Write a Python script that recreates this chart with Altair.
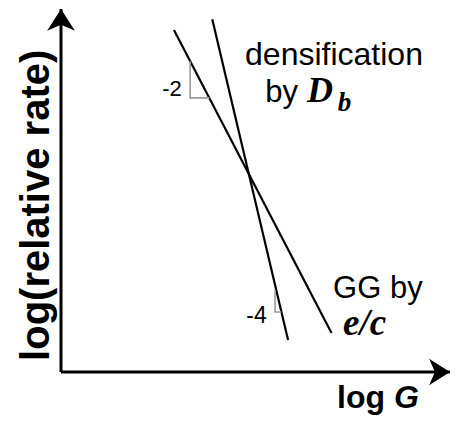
import altair as alt
import pandas as pd

# ---- data (arbitrary log units, equal scaling on both axes) ----
x_domain = [0, 9.85]
y_domain = [0, 9.19]

# GG by e/c : slope -2
gg_logG = [2.86, 6.85]
gg_logR = [8.66, 0.99]
# densification by D_b : slope -4
dens_logG = [3.83, 5.75]
dens_logR = [8.93, 0.81]

# slope triangles
tri2_logG = [3.27, 3.27, 3.76]
tri2_logR = [7.87, 6.94, 6.94]
tri4_logG = [5.42, 5.42, 5.58]
tri4_logR = [2.08, 1.52, 1.52]

# annotation anchors (data units)
lab_text = ["-2", "-4", "densification", "by", "D", "b", "GG by", "e/c", "log", "G", "log(relative rate)"]
lab_logG = [3.06, 5.21, 4.66, 5.17, 6.23, 7.01, 6.89, 7.14, 6.99, 8.43, -0.61]
lab_logR = [7.00, 1.25, 7.76, 6.84, 6.84, 6.61, 1.87, 0.94, -0.91, -0.91, 4.22]

xs = alt.Scale(domain=x_domain, nice=False, zero=False)
ys = alt.Scale(domain=y_domain, nice=False, zero=False)

SANS = "Liberation Sans"
SERIF = "Liberation Serif"

lines_df = pd.DataFrame({
    "series": ["gg"] * 2 + ["dens"] * 2,
    "g": gg_logG + dens_logG,
    "r": gg_logR + dens_logR,
    "o": [0, 1, 0, 1],
})
tri_df = pd.DataFrame({
    "series": ["t2"] * 3 + ["t4"] * 3,
    "g": tri2_logG + tri4_logG,
    "r": tri2_logR + tri4_logR,
    "o": [0, 1, 2, 0, 1, 2],
})
axes_df = pd.DataFrame({
    "g": [x_domain[0], x_domain[0]],
    "g2": [x_domain[1], x_domain[0]],
    "r": [y_domain[0], y_domain[0]],
    "r2": [y_domain[0], y_domain[1]],
})

X = lambda f="g": alt.X(f"{f}:Q", scale=xs, axis=None)
Y = lambda f="r": alt.Y(f"{f}:Q", scale=ys, axis=None)

axes = alt.Chart(axes_df).mark_rule(color="black", strokeWidth=3).encode(
    x=X(), x2="g2:Q", y=Y(), y2="r2:Q")

lines = alt.Chart(lines_df).mark_line(color="black", strokeWidth=2.2).encode(
    x=X(), y=Y(), detail="series:N", order="o:Q")

tris = alt.Chart(tri_df).mark_line(color="#9a9a9a", strokeWidth=1.6).encode(
    x=X(), y=Y(), detail="series:N", order="o:Q")

arrow_up = "M0,0L1,1.57L0,1.13L-1,1.57Z"
arrow_right = "M0,0L-1.57,-1L-1.13,0L-1.57,1Z"

up_df = pd.DataFrame({"g": [x_domain[0]], "r": [y_domain[1]]})
right_df = pd.DataFrame({"g": [x_domain[1]], "r": [y_domain[0]]})

arr_up = alt.Chart(up_df).mark_point(shape=arrow_up, filled=True, size=775, color="black",
                                     opacity=1, strokeWidth=0).encode(x=X(), y=Y())
arr_right = alt.Chart(right_df).mark_point(shape=arrow_right, filled=True, size=710, color="black",
                                           opacity=1, strokeWidth=0).encode(x=X(), y=Y())


def label(i, **kw):
    df = pd.DataFrame({"t": [lab_text[i]], "g": [lab_logG[i]], "r": [lab_logR[i]]})
    return alt.Chart(df).mark_text(color="black", **kw).encode(x=X(), y=Y(), text="t:N")


labels = [
    label(0, font=SANS, fontSize=22, align="right", baseline="alphabetic"),
    label(1, font=SANS, fontSize=23, align="right", baseline="alphabetic"),
    label(2, font=SANS, fontSize=32, align="left", baseline="alphabetic"),
    label(3, font=SANS, fontSize=31, align="left", baseline="alphabetic"),
    label(4, font=SERIF, fontSize=36, fontWeight="bold", fontStyle="italic", align="left", baseline="alphabetic"),
    label(5, font=SERIF, fontSize=27, fontWeight="bold", fontStyle="italic", align="left", baseline="alphabetic"),
    label(6, font=SANS, fontSize=31, align="left", baseline="alphabetic"),
    label(7, font=SERIF, fontSize=37, fontWeight="bold", fontStyle="italic", align="left", baseline="alphabetic"),
    label(8, font=SANS, fontSize=32, fontWeight="bold", align="left", baseline="alphabetic"),
    label(9, font=SANS, fontSize=32, fontWeight="bold", fontStyle="italic", align="left", baseline="alphabetic"),
    label(10, font=SANS, fontSize=40, fontWeight="bold", align="center", baseline="middle", angle=270),
]

chart = alt.layer(axes, lines, tris, arr_up, arr_right, *labels).properties(
    width=389,
    height=363,
    autosize=alt.AutoSizeParams(type="none"),
    padding={"left": 53, "top": 1, "right": 0, "bottom": 43},
    background="white",
).configure_view(stroke=None)

chart.save("out.html", embed_options={"renderer": "svg", "actions": False})
